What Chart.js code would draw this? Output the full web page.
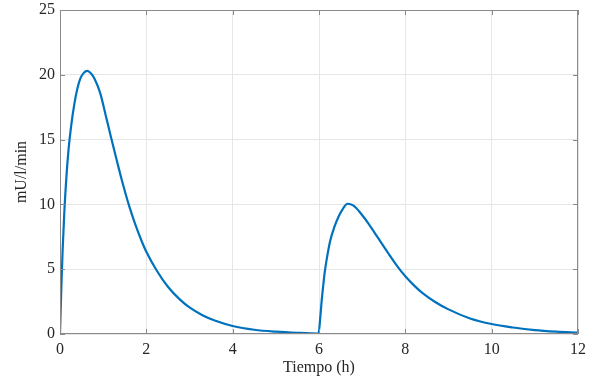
<!DOCTYPE html>
<html lang="es">

<head>
    <title>Grafico</title>
    <meta charset="utf-8">
    <script src="https://cdn.jsdelivr.net/npm/chart.js@4/dist/chart.umd.min.js"></script>
    <style>
        body { margin: 0; background: #fff; }
    </style>
</head>

<body>
    <canvas id="myChart" width="592" height="383"></canvas>
    <script>
        // tiempo (h) y valores
        var tiempo = [0, 0.03, 0.06, 0.1, 0.15, 0.2, 0.26, 0.33, 0.4, 0.47, 0.55, 0.63, 0.72, 0.8, 0.93, 1.05, 1.18, 1.3, 1.43, 1.6, 1.74, 1.9, 2.0, 2.24, 2.5, 2.78, 3.0, 3.3, 3.6, 4.0, 4.5, 5.0, 5.5, 5.99,
            6.03, 6.06, 6.1, 6.13, 6.18, 6.26, 6.35, 6.46, 6.56, 6.66, 6.8, 6.97, 7.15, 7.36, 7.6, 7.82, 8.0, 8.2, 8.4, 8.7, 9.0, 9.5, 10.0, 10.5, 11.0, 11.5, 12.0];
        var insulina = [0, 3.5, 6.4, 9.4, 12.2, 14.3, 16.1, 17.7, 18.9, 19.7, 20.15, 20.3, 20.1, 19.7, 18.6, 17.0, 15.2, 13.6, 11.9, 9.9, 8.5, 7.1, 6.35, 4.9, 3.65, 2.65, 2.05, 1.45, 1.02, 0.62, 0.33, 0.18, 0.09, 0.04,
            1.3, 2.5, 3.8, 4.7, 5.8, 7.2, 8.2, 9.1, 9.7, 10.05, 9.9, 9.3, 8.5, 7.45, 6.25, 5.2, 4.45, 3.75, 3.15, 2.45, 1.9, 1.2, 0.77, 0.5, 0.3, 0.18, 0.1];
        var xTicks = [0, 2, 4, 6, 8, 10, 12];
        var yTicks = [0, 5, 10, 15, 20, 25];

        var puntos = [];
        for (var i = 0; i < tiempo.length; i++) {
            puntos.push({ x: tiempo[i], y: insulina[i] });
        }

        var fuente = { family: 'Liberation Serif', size: 16 };
        var gris = '#262626';

        // caja y marcas hacia dentro, estilo matlab
        var caja = {
            id: 'caja',
            afterDraw: function (chart) {
                var c = chart.ctx, a = chart.chartArea;
                var sx = chart.scales.x, sy = chart.scales.y;
                c.save();
                c.strokeStyle = '#8a8a8a';
                c.lineWidth = 1;
                c.strokeRect(a.left + 0.5, a.top + 0.5, a.right - a.left - 1, a.bottom - a.top - 1);
                c.beginPath();
                xTicks.forEach(function (v) {
                    var px = Math.round(sx.getPixelForValue(v)) + 0.5;
                    c.moveTo(px, a.bottom); c.lineTo(px, a.bottom - 5);
                    c.moveTo(px, a.top); c.lineTo(px, a.top + 5);
                });
                yTicks.forEach(function (v) {
                    var py = Math.round(sy.getPixelForValue(v)) + 0.5;
                    c.moveTo(a.left, py); c.lineTo(a.left + 5, py);
                    c.moveTo(a.right, py); c.lineTo(a.right - 5, py);
                });
                c.stroke();
                c.restore();
            }
        };

        var ctx = document.getElementById('myChart').getContext('2d');
        var chart = new Chart(ctx, {
            type: 'line',
            data: {
                datasets: [{
                    data: puntos,
                    borderColor: '#0072BD',
                    borderWidth: 2.2,
                    pointRadius: 0,
                    fill: false,
                    cubicInterpolationMode: 'monotone'
                }]
            },
            options: {
                responsive: false,
                animation: false,
                layout: { padding: { top: 10, right: 14, left: 0, bottom: 0 } },
                plugins: { legend: { display: false }, tooltip: { enabled: false } },
                scales: {
                    x: {
                        type: 'linear',
                        min: 0,
                        max: 12,
                        afterFit: function (s) { s.height = 49; s.paddingLeft = 0; s.paddingRight = 0; },
                        afterBuildTicks: function (s) { s.ticks = xTicks.map(function (v) { return { value: v }; }); },
                        grid: { color: '#e6e6e6', drawTicks: false },
                        border: { display: false },
                        ticks: { font: fuente, color: gris, padding: 6, maxRotation: 0 },
                        title: { display: true, text: 'Tiempo (h)', font: fuente, color: gris, padding: { top: 0, bottom: 6 } }
                    },
                    y: {
                        min: 0,
                        max: 25,
                        afterFit: function (s) { s.width = 60; s.paddingTop = 0; s.paddingBottom = 0; },
                        afterBuildTicks: function (s) { s.ticks = yTicks.map(function (v) { return { value: v }; }); },
                        grid: { color: '#e6e6e6', drawTicks: false },
                        border: { display: false },
                        ticks: { font: fuente, color: gris, padding: 5 },
                        title: { display: true, text: 'mU/l/min', font: fuente, color: gris, padding: { top: 12, bottom: 0 } }
                    }
                }
            },
            plugins: [caja]
        });
    </script>
</body>

</html>
